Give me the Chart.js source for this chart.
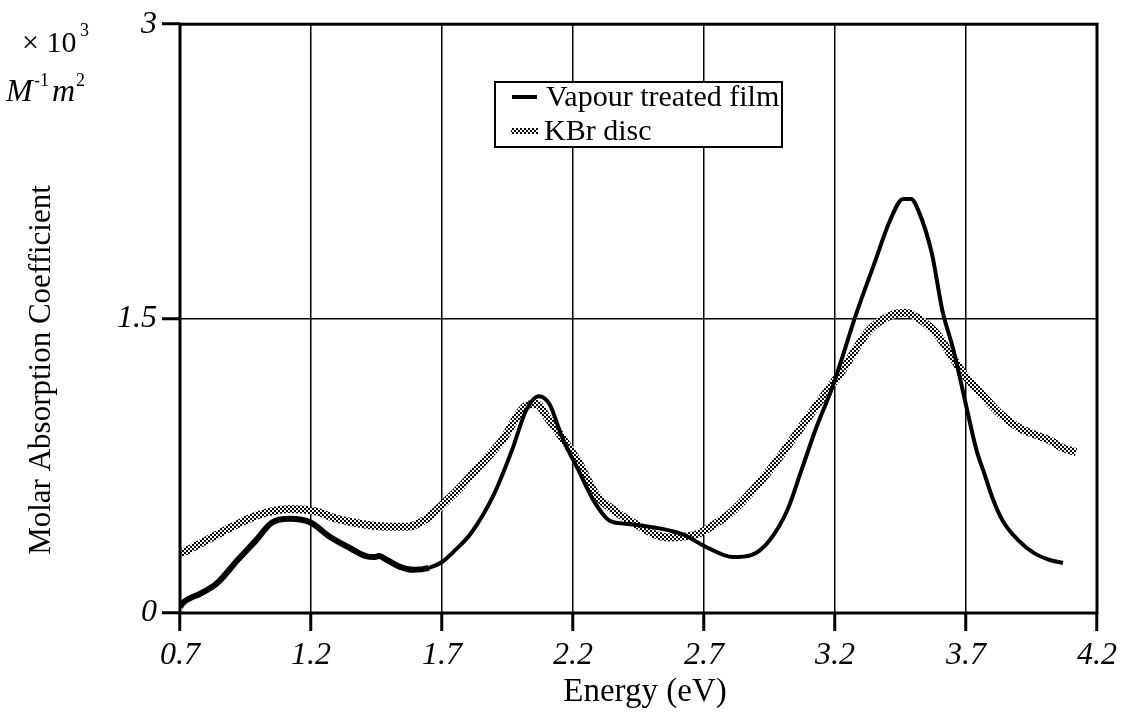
<!DOCTYPE html>
<html>
<head>
<meta charset="utf-8">
<script src="https://cdn.jsdelivr.net/npm/chart.js@4/dist/chart.umd.min.js"></script>
<style>
  html, body { margin: 0; padding: 0; background: #fff; }
  #wrap { width: 1134px; height: 727px; }
</style>
</head>
<body>
<div id="wrap"><canvas id="absChart" width="1134" height="727"></canvas></div>
<script>
// Data
const filmEnergy = [0.70, 0.71, 0.78, 0.84, 0.92, 0.99, 1.05, 1.12, 1.20, 1.27, 1.35, 1.41, 1.44, 1.46, 1.49, 1.54, 1.59, 1.65, 1.70, 1.75, 1.81, 1.90, 1.97, 2.02, 2.07, 2.11, 2.16, 2.22, 2.28, 2.34, 2.40, 2.49, 2.62, 2.71, 2.81, 2.88, 2.95, 3.02, 3.07, 3.13, 3.19, 3.22, 3.28, 3.35, 3.41, 3.46, 3.49, 3.52, 3.57, 3.61, 3.65, 3.68, 3.70, 3.74, 3.77, 3.80, 3.84, 3.90, 3.96, 4.02, 4.07];
const filmCoeff = [0.03, 0.05, 0.10, 0.15, 0.27, 0.37, 0.46, 0.48, 0.46, 0.39, 0.33, 0.29, 0.285, 0.29, 0.27, 0.235, 0.22, 0.23, 0.26, 0.32, 0.405, 0.61, 0.84, 1.03, 1.105, 1.065, 0.89, 0.73, 0.57, 0.47, 0.455, 0.44, 0.40, 0.335, 0.285, 0.295, 0.37, 0.53, 0.72, 0.95, 1.15, 1.27, 1.52, 1.78, 2.0, 2.11, 2.11, 2.045, 1.83, 1.54, 1.35, 1.18, 1.06, 0.83, 0.71, 0.59, 0.47, 0.37, 0.305, 0.27, 0.255];

const discEnergy = [0.70, 0.78, 0.90, 1.00, 1.12, 1.21, 1.30, 1.41, 1.50, 1.57, 1.64, 1.70, 1.77, 1.83, 1.93, 2.02, 2.06, 2.10, 2.15, 2.22, 2.29, 2.36, 2.43, 2.56, 2.67, 2.75, 2.81, 2.94, 3.07, 3.18, 3.22, 3.33, 3.42, 3.47, 3.52, 3.59, 3.65, 3.69, 3.77, 3.83, 3.90, 3.96, 4.02, 4.07, 4.12];
const discCoeff = [0.30, 0.355, 0.44, 0.50, 0.53, 0.52, 0.48, 0.45, 0.44, 0.44, 0.48, 0.55, 0.64, 0.73, 0.88, 1.055, 1.065, 1.0, 0.91, 0.77, 0.60, 0.52, 0.46, 0.385, 0.40, 0.46, 0.52, 0.71, 0.945, 1.15, 1.22, 1.44, 1.52, 1.53, 1.50, 1.42, 1.30, 1.22, 1.10, 1.015, 0.945, 0.91, 0.88, 0.84, 0.82];

const energyTicks = [0.7, 1.2, 1.7, 2.2, 2.7, 3.2, 3.7, 4.2];
const coeffTicks = [0, 1.5, 3];
const seriesNames = ['Vapour treated film', 'KBr disc'];

const serif = '"Liberation Serif", "DejaVu Serif", serif';

// checker pattern for the KBr disc trace
function makeHatch() {
    const c = document.createElement('canvas');
    c.width = 4; c.height = 4;
    const g = c.getContext('2d');
    g.fillStyle = '#ffffff';
    g.fillRect(0, 0, 4, 4);
    g.fillStyle = '#000000';
    g.fillRect(0, 0, 2, 2);
    g.fillRect(2, 2, 2, 2);
    return g.createPattern(c, 'repeat');
}
const hatch = makeHatch();

function toPoints(xs, ys) {
    return xs.map((x, i) => ({ x: x, y: ys[i] }));
}

// Frame, legend, titles and units
const decorPlugin = {
    id: 'decor',
    afterDatasetsDraw(chart) {
        const ctx = chart.ctx;
        const a = chart.chartArea;
        ctx.save();

        // plot frame
        ctx.strokeStyle = '#000';
        ctx.lineWidth = 3;
        ctx.strokeRect(a.left, a.top, a.right - a.left, a.bottom - a.top);

        // legend box
        ctx.fillStyle = '#fff';
        ctx.fillRect(495, 82, 287, 65);
        ctx.lineWidth = 2;
        ctx.strokeRect(495, 82, 287, 65);

        ctx.lineWidth = 4;
        ctx.strokeStyle = '#000';
        ctx.beginPath();
        ctx.moveTo(512, 97); ctx.lineTo(537, 97);
        ctx.stroke();
        ctx.lineWidth = 6;
        ctx.strokeStyle = hatch;
        ctx.beginPath();
        ctx.moveTo(511, 131); ctx.lineTo(538, 131);
        ctx.stroke();

        ctx.fillStyle = '#000';
        ctx.font = '30px ' + serif;
        ctx.textBaseline = 'middle';
        ctx.textAlign = 'left';
        ctx.fillText(seriesNames[0], 546, 98);
        ctx.fillText(seriesNames[1], 544, 132);

        // axis titles
        ctx.textAlign = 'center';
        ctx.font = '33px ' + serif;
        ctx.fillText('Energy (eV)', 645, 692);

        ctx.save();
        ctx.translate(42, 370);
        ctx.rotate(-Math.PI / 2);
        ctx.font = '31px ' + serif;
        ctx.fillText('Molar Absorption Coefficient', 0, 0);
        ctx.restore();

        // units
        ctx.textBaseline = 'alphabetic';
        ctx.textAlign = 'left';
        ctx.font = '30px ' + serif;
        ctx.fillText('\u00d7 10', 22, 52);
        ctx.font = '18px ' + serif;
        ctx.fillText('3', 80, 36);

        ctx.font = 'italic 32px ' + serif;
        ctx.fillText('M', 6, 101);
        ctx.font = '18px ' + serif;
        ctx.fillText('-1', 34, 86);
        ctx.font = 'italic 32px ' + serif;
        ctx.fillText('m', 52, 101);
        ctx.font = '18px ' + serif;
        ctx.fillText('2', 76, 86);

        ctx.restore();
    }
};

const gridStyle = {
    color: '#000',
    lineWidth: 1.5,
    borderDash: [1, 2],
    drawTicks: true,
    tickLength: 18,
    tickWidth: 3,
    tickColor: '#000',
    tickBorderDash: []
};

const absCtx = document.getElementById('absChart').getContext('2d');
const absChart = new Chart(absCtx, {
    type: 'line',
    data: {
        datasets: [{
            label: seriesNames[0],
            data: toPoints(filmEnergy, filmCoeff),
            borderColor: '#000',
            borderWidth: 4,
            segment: {
                borderWidth: (c) => (c.p0.parsed.x < 1.6 ? 6 : 4)
            },
            pointRadius: 0,
            cubicInterpolationMode: 'monotone',
            fill: false
        }, {
            label: seriesNames[1],
            data: toPoints(discEnergy, discCoeff),
            borderColor: hatch,
            borderWidth: 8,
            pointRadius: 0,
            cubicInterpolationMode: 'monotone',
            fill: false
        }]
    },
    options: {
        responsive: false,
        animation: false,
        layout: { padding: { left: 0, top: 23, right: 37, bottom: 0 } },
        plugins: {
            legend: { display: false },
            tooltip: { enabled: false }
        },
        scales: {
            x: {
                type: 'linear',
                min: 0.7,
                max: 4.2,
                afterBuildTicks: (s) => { s.ticks = energyTicks.map(v => ({ value: v })); },
                afterFit: (s) => { s.height = 114; },
                grid: gridStyle,
                border: { display: false },
                ticks: {
                    color: '#000',
                    padding: 5,
                    font: { family: serif, size: 32, style: 'italic' },
                    maxRotation: 0,
                    callback: (v) => v.toFixed(1)
                }
            },
            y: {
                type: 'linear',
                min: 0,
                max: 3,
                afterBuildTicks: (s) => { s.ticks = coeffTicks.map(v => ({ value: v })); },
                afterFit: (s) => { s.width = 180; },
                grid: gridStyle,
                border: { display: false },
                ticks: {
                    color: '#000',
                    padding: 5,
                    font: { family: serif, size: 32, style: 'italic' },
                    callback: (v) => String(v)
                }
            }
        }
    },
    plugins: [decorPlugin]
});
</script>
</body>
</html>
